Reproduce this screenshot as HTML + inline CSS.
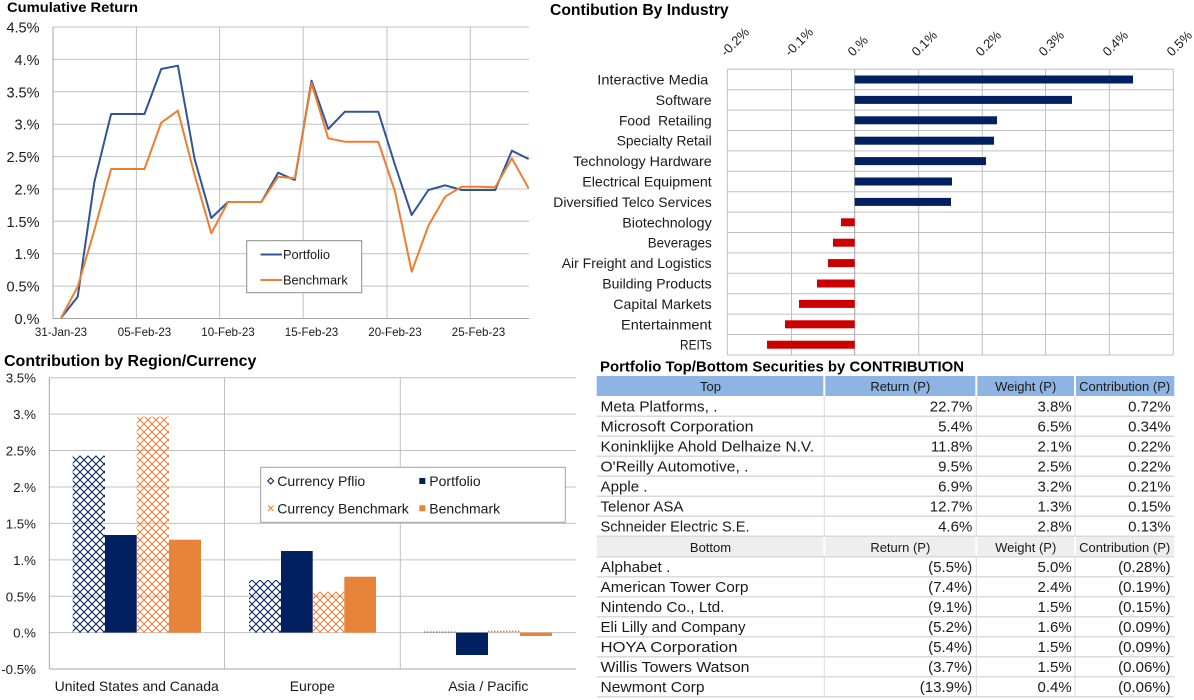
<!DOCTYPE html>
<html>
<head>
<meta charset="utf-8">
<style>
html,body{margin:0;padding:0;background:#fff;}
svg{display:block;}
text{font-family:"Liberation Sans",Arial,sans-serif;fill:#1a1a1a;}
.b{font-weight:bold;fill:#000;}
</style>
</head>
<body>
<svg width="1194" height="700" viewBox="0 0 1194 700" xmlns="http://www.w3.org/2000/svg">
<defs>
<pattern id="pn" width="8" height="8" patternUnits="userSpaceOnUse"><path d="M0 0L8 8M8 0L0 8" stroke="#002060" stroke-width="1" fill="none"/></pattern>
<pattern id="po" width="8" height="8" patternUnits="userSpaceOnUse"><path d="M0 0L8 8M8 0L0 8" stroke="#ED7D31" stroke-width="1" fill="none"/></pattern>
</defs>

<!-- ============ Cumulative Return ============ -->
<text class="b" x="7" y="12" font-size="13.6" textLength="131" lengthAdjust="spacingAndGlyphs">Cumulative Return</text>
<g stroke="#C0C0C0" stroke-width="1">
<line x1="53" y1="27" x2="529" y2="27"/>
<line x1="53" y1="59.4" x2="529" y2="59.4"/>
<line x1="53" y1="91.8" x2="529" y2="91.8"/>
<line x1="53" y1="124.2" x2="529" y2="124.2"/>
<line x1="53" y1="156.6" x2="529" y2="156.6"/>
<line x1="53" y1="189" x2="529" y2="189"/>
<line x1="53" y1="221.3" x2="529" y2="221.3"/>
<line x1="53" y1="253.7" x2="529" y2="253.7"/>
<line x1="53" y1="286.1" x2="529" y2="286.1"/>
<line x1="136.4" y1="27" x2="136.4" y2="318.5"/>
<line x1="219.6" y1="27" x2="219.6" y2="318.5"/>
<line x1="303.2" y1="27" x2="303.2" y2="318.5"/>
<line x1="387" y1="27" x2="387" y2="318.5"/>
<line x1="470.3" y1="27" x2="470.3" y2="318.5"/>
</g>
<g stroke="#A6A6A6" stroke-width="1">
<line x1="53" y1="27" x2="53" y2="318.5"/>
<line x1="53" y1="318.5" x2="529" y2="318.5"/>
</g>
<g font-size="14.5" text-anchor="end">
<text x="39.5" y="32.5">4.5%</text>
<text x="39.5" y="64.9">4.%</text>
<text x="39.5" y="97.3">3.5%</text>
<text x="39.5" y="129.7">3.%</text>
<text x="39.5" y="162.1">2.5%</text>
<text x="39.5" y="194.5">2.%</text>
<text x="39.5" y="226.8">1.5%</text>
<text x="39.5" y="259.2">1.%</text>
<text x="39.5" y="291.6">0.5%</text>
<text x="39.5" y="324">0.%</text>
</g>
<g font-size="11.6" text-anchor="middle">
<text x="61" y="336">31-Jan-23</text>
<text x="144.5" y="336">05-Feb-23</text>
<text x="228" y="336">10-Feb-23</text>
<text x="311.5" y="336">15-Feb-23</text>
<text x="395" y="336">20-Feb-23</text>
<text x="478.5" y="336">25-Feb-23</text>
</g>
<polyline fill="none" stroke="#2F5597" stroke-width="2" stroke-linejoin="round" points="61,318 77.7,296.7 94.4,181.7 111.1,114 127.8,114 144.5,114 161.2,69 177.9,65.7 194.6,159 211.3,218 228,202 244.7,202 261.4,202 278.1,172.7 294.8,180 311.5,80.7 328.2,129 344.9,111.7 361.6,111.7 378.3,111.7 395,165 411.7,215 428.4,190 445.1,185.3 461.8,190 478.5,190 495.2,190 511.9,150.7 528.6,159"/>
<polyline fill="none" stroke="#ED7D31" stroke-width="2" stroke-linejoin="round" points="61,318 77.7,286.7 94.4,230 111.1,169 127.8,169 144.5,169 161.2,122.7 177.9,110.7 194.6,175 211.3,233.3 228,202 244.7,202 261.4,202 278.1,176.7 294.8,178.3 311.5,83.3 328.2,138.3 344.9,141.7 361.6,141.7 378.3,141.7 395,191.7 411.7,271.7 428.4,225.7 445.1,196.7 461.8,186.7 478.5,186.7 495.2,187.3 511.9,158.3 528.6,188.3"/>
<rect x="246.7" y="240.7" width="115" height="52" fill="#fff" stroke="#8C8C8C" stroke-width="1"/>
<line x1="260.5" y1="254.5" x2="282" y2="254.5" stroke="#2F5597" stroke-width="2"/>
<line x1="260.5" y1="280" x2="282" y2="280" stroke="#ED7D31" stroke-width="2"/>
<text x="283" y="259" font-size="12.8">Portfolio</text>
<text x="283" y="284.5" font-size="12.8">Benchmark</text>

<!-- ============ Contribution By Industry ============ -->
<text class="b" x="550" y="15" font-size="15.7">Contibution By Industry</text>
<g stroke="#C0C0C0" stroke-width="1">
<line x1="727.3" y1="69.3" x2="1173.3" y2="69.3"/>
<line x1="727.3" y1="89.7" x2="1173.3" y2="89.7"/>
<line x1="727.3" y1="110.1" x2="1173.3" y2="110.1"/>
<line x1="727.3" y1="130.5" x2="1173.3" y2="130.5"/>
<line x1="727.3" y1="150.9" x2="1173.3" y2="150.9"/>
<line x1="727.3" y1="171.3" x2="1173.3" y2="171.3"/>
<line x1="727.3" y1="191.7" x2="1173.3" y2="191.7"/>
<line x1="727.3" y1="212.1" x2="1173.3" y2="212.1"/>
<line x1="727.3" y1="232.5" x2="1173.3" y2="232.5"/>
<line x1="727.3" y1="252.9" x2="1173.3" y2="252.9"/>
<line x1="727.3" y1="273.3" x2="1173.3" y2="273.3"/>
<line x1="727.3" y1="293.7" x2="1173.3" y2="293.7"/>
<line x1="727.3" y1="314.1" x2="1173.3" y2="314.1"/>
<line x1="727.3" y1="334.5" x2="1173.3" y2="334.5"/>
<line x1="727.3" y1="355" x2="1173.3" y2="355"/>
<line x1="727.3" y1="69.3" x2="727.3" y2="355"/>
<line x1="791.5" y1="69.3" x2="791.5" y2="355"/>
<line x1="918.7" y1="69.3" x2="918.7" y2="355"/>
<line x1="982.3" y1="69.3" x2="982.3" y2="355"/>
<line x1="1045.5" y1="69.3" x2="1045.5" y2="355"/>
<line x1="1109.3" y1="69.3" x2="1109.3" y2="355"/>
<line x1="1173.3" y1="69.3" x2="1173.3" y2="355"/>
</g>
<line x1="854.7" y1="69.3" x2="854.7" y2="355" stroke="#A6A6A6" stroke-width="1"/>
<g font-size="13">
<text transform="translate(726,57) rotate(-45)">-0.2%</text>
<text transform="translate(790,57) rotate(-45)">-0.1%</text>
<text transform="translate(853,57) rotate(-45)">0.%</text>
<text transform="translate(917,57) rotate(-45)">0.1%</text>
<text transform="translate(981,57) rotate(-45)">0.2%</text>
<text transform="translate(1044,57) rotate(-45)">0.3%</text>
<text transform="translate(1108,57) rotate(-45)">0.4%</text>
<text transform="translate(1172,57) rotate(-45)">0.5%</text>
</g>
<g fill="#002060">
<rect x="854.7" y="75.5" width="278.3" height="8"/>
<rect x="854.7" y="95.9" width="217.3" height="8"/>
<rect x="854.7" y="116.3" width="142.3" height="8"/>
<rect x="854.7" y="136.7" width="139.3" height="8"/>
<rect x="854.7" y="157.1" width="131.3" height="8"/>
<rect x="854.7" y="177.5" width="97.3" height="8"/>
<rect x="854.7" y="197.9" width="96.3" height="8"/>
</g>
<g fill="#CC0000">
<rect x="841" y="218.3" width="13.7" height="8"/>
<rect x="833" y="238.7" width="21.7" height="8"/>
<rect x="828" y="259.1" width="26.7" height="8"/>
<rect x="817" y="279.5" width="37.7" height="8"/>
<rect x="799" y="299.9" width="55.7" height="8"/>
<rect x="785" y="320.3" width="69.7" height="8"/>
<rect x="767" y="340.7" width="87.7" height="8"/>
</g>
<g font-size="14" text-anchor="end">
<text x="708.3" y="84.5" textLength="111" lengthAdjust="spacingAndGlyphs">Interactive Media</text>
<text x="711.7" y="104.9" textLength="56" lengthAdjust="spacingAndGlyphs">Software</text>
<text x="711.7" y="125.3" xml:space="preserve" textLength="92.7" lengthAdjust="spacingAndGlyphs">Food  Retailing</text>
<text x="711.7" y="145.7" textLength="95" lengthAdjust="spacingAndGlyphs">Specialty Retail</text>
<text x="711.7" y="166.1" textLength="138.4" lengthAdjust="spacingAndGlyphs">Technology Hardware</text>
<text x="711.7" y="186.5" textLength="129.4" lengthAdjust="spacingAndGlyphs">Electrical Equipment</text>
<text x="711.7" y="206.9" textLength="158.4" lengthAdjust="spacingAndGlyphs">Diversified Telco Services</text>
<text x="711.7" y="227.3" textLength="89.4" lengthAdjust="spacingAndGlyphs">Biotechnology</text>
<text x="711.7" y="247.7" textLength="64" lengthAdjust="spacingAndGlyphs">Beverages</text>
<text x="711.7" y="268.1" textLength="150" lengthAdjust="spacingAndGlyphs">Air Freight and Logistics</text>
<text x="711.7" y="288.5" textLength="109.4" lengthAdjust="spacingAndGlyphs">Building Products</text>
<text x="711.7" y="308.9" textLength="98.4" lengthAdjust="spacingAndGlyphs">Capital Markets</text>
<text x="711.7" y="329.3" textLength="90.7" lengthAdjust="spacingAndGlyphs">Entertainment</text>
<text x="711.7" y="349.7" textLength="31.7" lengthAdjust="spacingAndGlyphs">REITs</text>
</g>

<!-- ============ Contribution by Region/Currency ============ -->
<text class="b" x="4" y="366" font-size="16">Contribution by Region/Currency</text>
<g stroke="#C0C0C0" stroke-width="1">
<line x1="49.3" y1="377.7" x2="576" y2="377.7"/>
<line x1="49.3" y1="414.1" x2="576" y2="414.1"/>
<line x1="49.3" y1="450.5" x2="576" y2="450.5"/>
<line x1="49.3" y1="487" x2="576" y2="487"/>
<line x1="49.3" y1="523.4" x2="576" y2="523.4"/>
<line x1="49.3" y1="559.9" x2="576" y2="559.9"/>
<line x1="49.3" y1="596.3" x2="576" y2="596.3"/>
<line x1="49.3" y1="632.6" x2="576" y2="632.6"/>
<line x1="224.5" y1="377.7" x2="224.5" y2="669"/>
<line x1="400.3" y1="377.7" x2="400.3" y2="669"/>
</g>
<g stroke="#A6A6A6" stroke-width="1">
<line x1="49.3" y1="377.7" x2="49.3" y2="669"/>
<line x1="49.3" y1="669" x2="576" y2="669"/>
</g>
<g font-size="13.3" text-anchor="end">
<text x="36" y="382.7">3.5%</text>
<text x="36" y="419.1">3.%</text>
<text x="36" y="455.5">2.5%</text>
<text x="36" y="492">2.%</text>
<text x="36" y="528.4">1.5%</text>
<text x="36" y="564.9">1.%</text>
<text x="36" y="601.3">0.5%</text>
<text x="36" y="637.6">0.%</text>
<text x="36" y="674">-0.5%</text>
</g>
<g font-size="14" text-anchor="middle">
<text x="136.7" y="691">United States and Canada</text>
<text x="312.3" y="691">Europe</text>
<text x="488.3" y="691">Asia / Pacific</text>
</g>
<!-- bars -->
<rect x="72.7" y="455.7" width="32.3" height="176.9" fill="url(#pn)"/>
<rect x="105" y="535" width="31.7" height="97.6" fill="#002060"/>
<rect x="136.7" y="416.7" width="32.3" height="215.9" fill="url(#po)"/>
<rect x="169" y="539.7" width="32" height="92.9" fill="#E8843A"/>
<rect x="249" y="580" width="32" height="52.6" fill="url(#pn)"/>
<rect x="281" y="551" width="31.7" height="81.6" fill="#002060"/>
<rect x="312.7" y="591.7" width="31.6" height="40.9" fill="url(#po)"/>
<rect x="344.3" y="576.7" width="31.7" height="55.9" fill="#E8843A"/>
<line x1="424.3" y1="632" x2="456" y2="632" stroke="#002060" stroke-width="1" stroke-dasharray="1,2"/>
<rect x="456" y="632.6" width="32" height="22.4" fill="#002060"/>
<line x1="488" y1="631.5" x2="520" y2="631.5" stroke="#ED7D31" stroke-width="1.5" stroke-dasharray="1.5,1.5"/>
<rect x="520" y="632.6" width="32" height="3.4" fill="#E8843A"/>
<!-- legend -->
<rect x="260.7" y="467.3" width="304.6" height="55" fill="#fff" stroke="#A0A0A0" stroke-width="1"/>
<path d="M270.7 478 L273.7 481 L270.7 484 L267.7 481 Z" fill="none" stroke="#002060" stroke-width="1"/>
<path d="M268 505.5 L273.5 511 M273.5 505.5 L268 511" stroke="#ED7D31" stroke-width="1"/>
<rect x="419.3" y="478" width="6" height="6" fill="#002060"/>
<rect x="419.3" y="505.3" width="6" height="6" fill="#E8843A"/>
<g font-size="14">
<text x="277.3" y="486">Currency Pflio</text>
<text x="277.3" y="513.3">Currency Benchmark</text>
<text x="429.3" y="486">Portfolio</text>
<text x="429.3" y="513.3">Benchmark</text>
</g>

<!-- ============ Table ============ -->
<text class="b" x="600" y="371.7" font-size="14.8" textLength="364" lengthAdjust="spacingAndGlyphs">Portfolio Top/Bottom Securities by CONTRIBUTION</text>
<rect x="596.7" y="376" width="577.6" height="20" fill="#8DB4E2"/>
<g stroke="#fff" stroke-width="2">
<line x1="824.3" y1="376" x2="824.3" y2="396"/>
<line x1="976.3" y1="376" x2="976.3" y2="396"/>
<line x1="1075" y1="376" x2="1075" y2="396"/>
</g>
<rect x="596.7" y="536.5" width="577.6" height="20" fill="#EEEEEE"/>
<g stroke="#fff" stroke-width="2">
<line x1="824.3" y1="536.5" x2="824.3" y2="556.5"/>
<line x1="976.3" y1="536.5" x2="976.3" y2="556.5"/>
<line x1="1075" y1="536.5" x2="1075" y2="556.5"/>
</g>
<g stroke="#DADADA" stroke-width="1.5">
<line x1="596.7" y1="416.3" x2="1174.3" y2="416.3"/>
<line x1="596.7" y1="436.3" x2="1174.3" y2="436.3"/>
<line x1="596.7" y1="456.3" x2="1174.3" y2="456.3"/>
<line x1="596.7" y1="476.3" x2="1174.3" y2="476.3"/>
<line x1="596.7" y1="496.3" x2="1174.3" y2="496.3"/>
<line x1="596.7" y1="516.3" x2="1174.3" y2="516.3"/>
<line x1="596.7" y1="536.3" x2="1174.3" y2="536.3"/>
<line x1="596.7" y1="556.7" x2="1174.3" y2="556.7"/>
<line x1="596.7" y1="576.7" x2="1174.3" y2="576.7"/>
<line x1="596.7" y1="596.7" x2="1174.3" y2="596.7"/>
<line x1="596.7" y1="616.7" x2="1174.3" y2="616.7"/>
<line x1="596.7" y1="636.7" x2="1174.3" y2="636.7"/>
<line x1="596.7" y1="656.7" x2="1174.3" y2="656.7"/>
<line x1="596.7" y1="676.7" x2="1174.3" y2="676.7"/>
<line x1="596.7" y1="696.7" x2="1174.3" y2="696.7"/>
</g>
<g stroke="#DADADA" stroke-width="1">
<line x1="824.3" y1="396" x2="824.3" y2="536"/>
<line x1="976.3" y1="396" x2="976.3" y2="536"/>
<line x1="1075" y1="396" x2="1075" y2="536"/>
<line x1="824.3" y1="557" x2="824.3" y2="697"/>
<line x1="976.3" y1="557" x2="976.3" y2="697"/>
<line x1="1075" y1="557" x2="1075" y2="697"/>
</g>
<g font-size="13" text-anchor="middle" fill="#222">
<text x="710.5" y="391">Top</text>
<text x="900.3" y="391">Return (P)</text>
<text x="1025.7" y="391">Weight (P)</text>
<text x="1124.7" y="391">Contribution (P)</text>
<text x="710.5" y="551.8">Bottom</text>
<text x="900.3" y="551.8">Return (P)</text>
<text x="1025.7" y="551.8">Weight (P)</text>
<text x="1124.7" y="551.8">Contribution (P)</text>
</g>
<g font-size="15">
<text x="600.5" y="411.5" textLength="117" lengthAdjust="spacingAndGlyphs">Meta Platforms, .</text>
<text x="600.5" y="431.5" textLength="153" lengthAdjust="spacingAndGlyphs">Microsoft Corporation</text>
<text x="600.5" y="451.5" textLength="213.5" lengthAdjust="spacingAndGlyphs">Koninklijke Ahold Delhaize N.V.</text>
<text x="600.5" y="471.5" textLength="148" lengthAdjust="spacingAndGlyphs">O'Reilly Automotive, .</text>
<text x="600.5" y="491.5" textLength="47" lengthAdjust="spacingAndGlyphs">Apple .</text>
<text x="600.5" y="511.5" textLength="83" lengthAdjust="spacingAndGlyphs">Telenor ASA</text>
<text x="600.5" y="531.5" textLength="149" lengthAdjust="spacingAndGlyphs">Schneider Electric S.E.</text>
<text x="600.5" y="572" textLength="70" lengthAdjust="spacingAndGlyphs">Alphabet .</text>
<text x="600.5" y="592" textLength="148" lengthAdjust="spacingAndGlyphs">American Tower Corp</text>
<text x="600.5" y="612" textLength="124" lengthAdjust="spacingAndGlyphs">Nintendo Co., Ltd.</text>
<text x="600.5" y="632" textLength="145" lengthAdjust="spacingAndGlyphs">Eli Lilly and Company</text>
<text x="600.5" y="652" textLength="137" lengthAdjust="spacingAndGlyphs">HOYA Corporation</text>
<text x="600.5" y="672" textLength="149" lengthAdjust="spacingAndGlyphs">Willis Towers Watson</text>
<text x="600.5" y="692" textLength="104" lengthAdjust="spacingAndGlyphs">Newmont Corp</text>
</g>
<g font-size="15" text-anchor="end">
<text x="972.3" y="411.5">22.7%</text>
<text x="972.3" y="431.5">5.4%</text>
<text x="972.3" y="451.5">11.8%</text>
<text x="972.3" y="471.5">9.5%</text>
<text x="972.3" y="491.5">6.9%</text>
<text x="972.3" y="511.5">12.7%</text>
<text x="972.3" y="531.5">4.6%</text>
<text x="1071.7" y="411.5">3.8%</text>
<text x="1071.7" y="431.5">6.5%</text>
<text x="1071.7" y="451.5">2.1%</text>
<text x="1071.7" y="471.5">2.5%</text>
<text x="1071.7" y="491.5">3.2%</text>
<text x="1071.7" y="511.5">1.3%</text>
<text x="1071.7" y="531.5">2.8%</text>
<text x="1170.7" y="411.5">0.72%</text>
<text x="1170.7" y="431.5">0.34%</text>
<text x="1170.7" y="451.5">0.22%</text>
<text x="1170.7" y="471.5">0.22%</text>
<text x="1170.7" y="491.5">0.21%</text>
<text x="1170.7" y="511.5">0.15%</text>
<text x="1170.7" y="531.5">0.13%</text>
<text x="972.3" y="572">(5.5%)</text>
<text x="972.3" y="592">(7.4%)</text>
<text x="972.3" y="612">(9.1%)</text>
<text x="972.3" y="632">(5.2%)</text>
<text x="972.3" y="652">(5.4%)</text>
<text x="972.3" y="672">(3.7%)</text>
<text x="972.3" y="692">(13.9%)</text>
<text x="1071.7" y="572">5.0%</text>
<text x="1071.7" y="592">2.4%</text>
<text x="1071.7" y="612">1.5%</text>
<text x="1071.7" y="632">1.6%</text>
<text x="1071.7" y="652">1.5%</text>
<text x="1071.7" y="672">1.5%</text>
<text x="1071.7" y="692">0.4%</text>
<text x="1170.7" y="572">(0.28%)</text>
<text x="1170.7" y="592">(0.19%)</text>
<text x="1170.7" y="612">(0.15%)</text>
<text x="1170.7" y="632">(0.09%)</text>
<text x="1170.7" y="652">(0.09%)</text>
<text x="1170.7" y="672">(0.06%)</text>
<text x="1170.7" y="692">(0.06%)</text>
</g>
</svg>
</body>
</html>
